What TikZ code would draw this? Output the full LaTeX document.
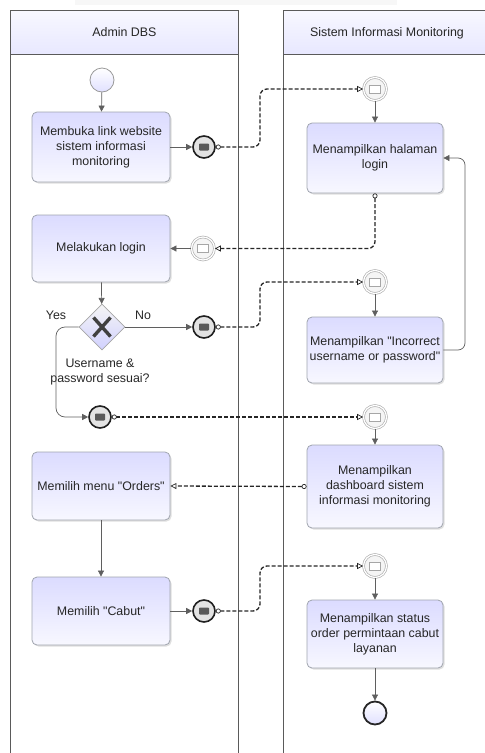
\documentclass[tikz,border=0pt]{standalone}
\usepackage{fontspec}
\newfontfamily\lsans{Liberation Sans}
\usetikzlibrary{shapes.geometric,arrows.meta,calc,shadows}
\definecolor{lanec}{RGB}{90,90,90}
\definecolor{taskb}{RGB}{160,165,175}
\definecolor{flowc}{RGB}{95,95,95}
\tikzset{
  txt/.style={font=\lsans\fontsize{12.4}{15}\selectfont, text=black!85},
  task/.style={txt, draw=taskb, line width=0.8pt, rounded corners=5pt,
    top color=blue!14, bottom color=blue!3, align=center, inner sep=2pt,
    drop shadow={shadow xshift=1.5pt, shadow yshift=-1.5pt, opacity=0.25}},
  startev/.style={circle, draw=gray!80, line width=0.8pt, inner sep=0pt, minimum size=24pt, top color=white, bottom color=blue!12},
  endev/.style={circle, draw=gray!30!black, line width=1.8pt, inner sep=0pt, minimum size=23pt, top color=white, bottom color=blue!12},
  throwev/.style={circle, draw=gray!25!black, line width=1.6pt, inner sep=0pt, minimum size=22pt, fill=gray!22},
  catchev/.style={circle, draw=gray!60, line width=0.7pt, double=white, double distance=1.2pt, inner sep=0pt, minimum size=23pt, fill=gray!8},
  gate/.style={diamond, draw=gray!70, line width=0.7pt, inner sep=0pt, minimum size=46pt, top color=gray!8, bottom color=blue!18},
  seq/.style={draw=flowc, line width=0.7pt, -{Triangle[length=6pt,width=6pt]}},
  msg/.style={draw=gray!30!black, line width=1.3pt, dashed, dash pattern=on 4pt off 2pt, rounded corners=7pt,
    {Circle[open,length=5pt,width=5pt,line width=0.7pt,fill=white]}-{Triangle[open,length=6pt,width=6pt,line width=0.7pt,fill=white]}},
  lane/.style={draw=lanec, line width=0.9pt},
  head/.style={lane, top color=blue!3, bottom color=blue!9}
}
\newcommand\envthrow[1]{%
  \fill[gray!70!black, rounded corners=0.8pt] ([shift={(-5,-3.5)}]#1) rectangle ([shift={(5,3.5)}]#1);
  \draw[white, line width=0.7pt] ([shift={(-4.5,-3)}]#1) -- ([shift={(0,0.8)}]#1) -- ([shift={(4.5,-3)}]#1);}
\newcommand\envcatch[1]{%
  \draw[gray!70, line width=0.6pt, fill=white] ([shift={(-5.5,-4)}]#1) rectangle ([shift={(5.5,4)}]#1);
  \draw[gray!70, line width=0.6pt] ([shift={(-5.5,-4)}]#1) -- ([shift={(0,1)}]#1) -- ([shift={(5.5,-4)}]#1);}
\begin{document}
\begin{tikzpicture}[x=1pt,y=-1pt]
\useasboundingbox (0,0) rectangle (485,753);
\fill[gray!6] (75,0) rectangle (397,5);
% lanes
\draw[lane] (10,54) -- (10,760);
\draw[lane] (238,54) -- (238,760);
\draw[lane] (283,54) -- (283,760);
\node[head, minimum width=228pt, minimum height=44pt, anchor=north west, txt, inner sep=0pt] (h1) at (10,10) {Admin DBS};
\path[head] (283,10) rectangle (495,54);
\node[txt] (h2) at (387,33) {Sistem Informasi Monitoring};
% left lane
\node[startev] (st) at (102,80) {};
\node[task, minimum width=138pt, minimum height=70pt] (t1) at (101,147) {Membuka link website\\sistem informasi\\monitoring};
\node[throwev] (s1) at (204,147) {};
\node[task, minimum width=138pt, minimum height=67pt] (login) at (101,248.5) {Melakukan login};
\node[catchev] (r2) at (203,248.5) {};
\node[gate] (gw) at (102,327) {};
\draw[gray!50!black, line width=3.4pt] ([shift={(-8.5,-9.5)}]gw.center) -- ([shift={(8.5,9.5)}]gw.center);
\draw[gray!50!black, line width=3.4pt] ([shift={(-8.5,9.5)}]gw.center) -- ([shift={(8.5,-9.5)}]gw.center);
\node[txt] (yes) at (56,315) {Yes};
\node[txt] (no) at (143,315) {No};
\node[txt, align=center] (cond) at (100,372) {Username \&\\password sesuai?};
\node[throwev] (s2) at (204,327) {};
\node[throwev] (s3) at (100,417) {};
\node[task, minimum width=138pt, minimum height=68pt] (orders) at (101,486) {Memilih menu "Orders"};
\node[task, minimum width=138pt, minimum height=68pt] (cabut) at (101,611) {Memilih "Cabut"};
\node[throwev] (s4) at (204,611) {};
% right lane
\node[catchev] (r1) at (375,89) {};
\node[task, minimum width=136pt, minimum height=70pt] (hal) at (375,158) {Menampilkan halaman\\login};
\node[catchev] (r3) at (375,282) {};
\node[task, minimum width=136pt, minimum height=66pt] (inc) at (375,350) {Menampilkan "Incorrect\\username or password"};
\node[catchev] (r4) at (375,417) {};
\node[task, minimum width=136pt, minimum height=83pt] (dash) at (375,486.5) {Menampilkan\\dashboard sistem\\informasi monitoring};
\node[catchev] (r5) at (375,566) {};
\node[task, minimum width=136pt, minimum height=68pt] (stat) at (375,634) {Menampilkan status\\order permintaan cabut\\layanan};
\node[endev] (en) at (375,713) {};
% envelopes
\envthrow{s1}\envthrow{s2}\envthrow{s3}\envthrow{s4}
\envcatch{r1}\envcatch{r2}\envcatch{r3}\envcatch{r4}\envcatch{r5}
% sequence flows
\draw[seq] (st) -- (t1);
\draw[seq] (t1) -- (s1);
\draw[seq] (r1) -- (hal);
\draw[seq] (r2) -- (login);
\draw[seq] (login) -- (gw);
\draw[seq] (gw.east) -- (s2);
\draw[seq] (r3) -- (inc);
\coordinate (k4) at (465,350);
\draw[seq, rounded corners=7pt] (inc.east) -- (k4) |- (hal.east);
\coordinate (k5) at (56,417);
\draw[seq, rounded corners=9pt] (gw.west) -| (k5) -- (s3);
\draw[seq] (r4) -- (dash);
\draw[seq] (orders) -- (cabut);
\draw[seq] (cabut) -- (s4);
\draw[seq] (r5) -- (stat);
\draw[seq] (stat) -- (en);
% message flows
\coordinate (k1) at (260,89);
\coordinate (k2) at (260,282);
\coordinate (k3) at (260,566);
\draw[msg] (s1.east) -| (k1) -- (r1.west);
\draw[msg] (hal.south) |- (r2.east);
\draw[msg] (s2.east) -| (k2) -- (r3.west);
\draw[msg] (s3.east) -- (r4.west);
\draw[msg] (dash.west) -- (orders.east);
\draw[msg] (s4.east) -| (k3) -- (r5.west);
\end{tikzpicture}
\end{document}
